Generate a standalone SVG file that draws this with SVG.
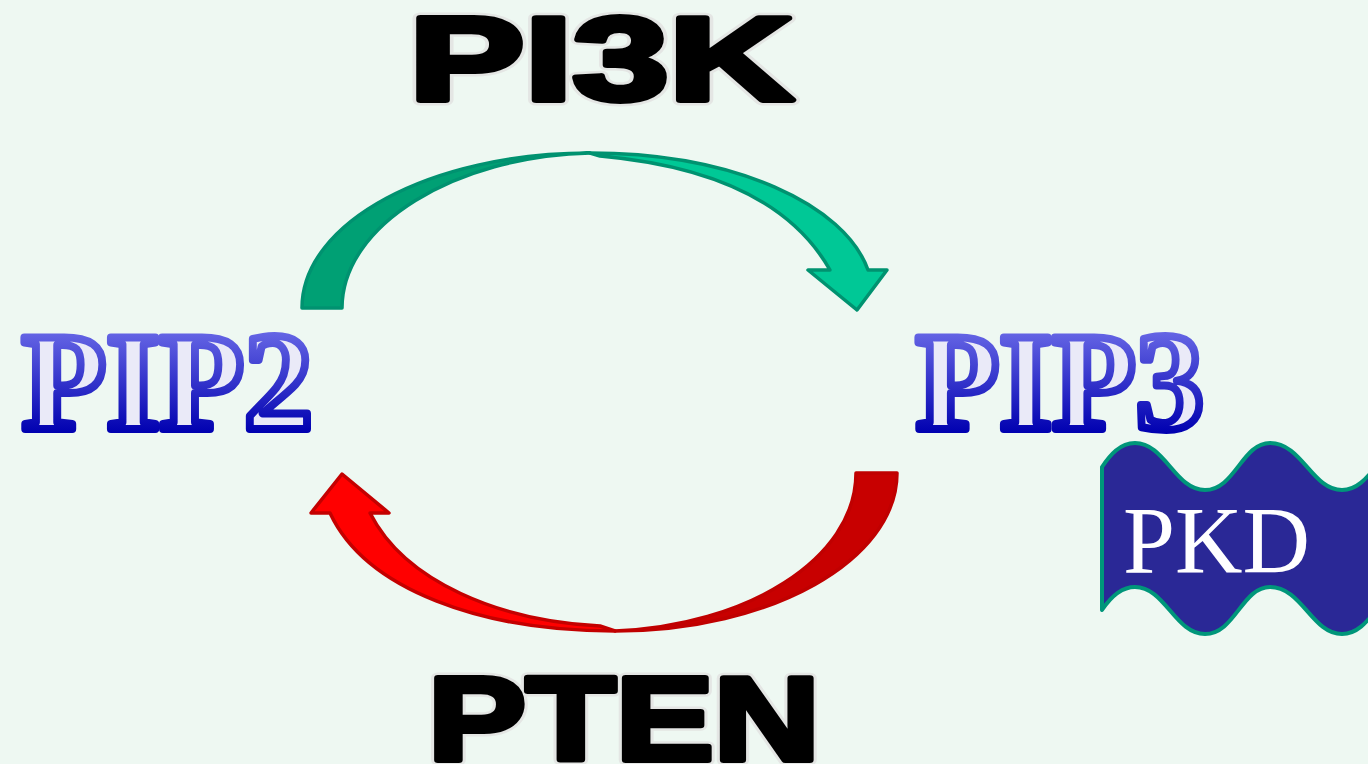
<svg xmlns="http://www.w3.org/2000/svg" width="1368" height="764" viewBox="0 0 1368 764">
  <style>
    .enzyme { font-family: "Liberation Sans", Arial, sans-serif; font-weight: bold; font-size: 119px; }
    .enzyme-halo { fill: none; stroke: #e4e6e4; stroke-width: 11; stroke-linejoin: round; }
    .enzyme-ink { fill: #000000; stroke: #000000; stroke-width: 6; stroke-linejoin: round; }
    .lipid { font-family: "Liberation Serif", "Times New Roman", serif; font-weight: bold; font-size: 139px;
             fill: #eaeaf8; stroke: url(#lipidStroke); stroke-width: 8; stroke-linejoin: round; }
    .arrow-edge { stroke-width: 3.5; stroke-linejoin: round; }
  </style>
  <defs>
    <linearGradient id="lipidStroke" gradientUnits="userSpaceOnUse" x1="0" y1="333" x2="0" y2="433">
      <stop offset="0" stop-color="#6464e4"/>
      <stop offset="1" stop-color="#0000b0"/>
    </linearGradient>
  </defs>

  <!-- backdrop -->
  <rect width="1368" height="764" fill="#eef8f2"/>

  <!-- curved arrows between the two lipids -->
  <g id="connectors">
    <!-- PI3K: PIP2 -> PIP3 (green, over the top) -->
    <g id="arrow-pi3k">
      <path class="arrow-edge" fill="#00c896" stroke="#009270"
            d="M590,153 C735,153 845,205 868,270 L887,270 L857,310 L808,270 L830,270 C792,203 712,166 600,156 Z"/>
      <path class="arrow-edge" fill="#00a074" stroke="#009270"
            d="M302,308 C302,222 431,153 590,153 C455,156 342,225 342,308 Z"/>
    </g>
    <!-- PTEN: PIP3 -> PIP2 (red, under the bottom) -->
    <g id="arrow-pten">
      <path class="arrow-edge" fill="#ff0000" stroke="#c40000"
            d="M615,631 C482,631 366,590 330,513 L311,513 L342,474 L389,513 L370,513 C405,582 500,621 600,626 Z"/>
      <path class="arrow-edge" fill="#c80000" stroke="#c00000"
            d="M856,473 L897,473 C897,560 771,631 615,631 C745,626 856,560 856,473 Z"/>
    </g>
  </g>

  <!-- enzyme labels (wide heavy lettering, stretched horizontally) -->
  <g id="node-pi3k" transform="translate(409,100) scale(1.455,1)">
    <text class="enzyme enzyme-halo" x="0" y="0">PI3K</text>
    <text class="enzyme enzyme-ink" x="0" y="0">PI3K</text>
  </g>
  <g id="node-pten" transform="translate(428,760) scale(1.235,1)">
    <text class="enzyme enzyme-halo" x="0" y="0">PTEN</text>
    <text class="enzyme enzyme-ink" x="0" y="0">PTEN</text>
  </g>

  <!-- lipid labels -->
  <g id="node-pip2">
    <text class="lipid" x="22" y="429" textLength="291" lengthAdjust="spacingAndGlyphs">PIP2</text>
  </g>
  <g id="node-pip3">
    <text class="lipid" x="916" y="429" textLength="288" lengthAdjust="spacingAndGlyphs">PIP3</text>
  </g>

  <!-- PKD wave banner -->
  <g id="node-pkd">
    <path fill="#2a2896" stroke="#00967a" stroke-width="4" stroke-linejoin="round"
          d="M1102,467 C1110,455 1120,443 1135,443 C1165,443 1175,490 1205,490 C1235,490 1242,443 1270,443 C1302,443 1312,490 1342,490 C1372,490 1380,443 1410,443
             L1410,587 C1380,587 1372,634 1342,634 C1312,634 1302,587 1270,587 C1242,587 1235,634 1205,634 C1175,634 1165,587 1135,587 C1120,587 1110,598 1102,610 Z"/>
    <text x="1123" y="573" textLength="187" lengthAdjust="spacingAndGlyphs"
          font-family="'Liberation Serif', 'Times New Roman', serif" font-size="95" fill="#ffffff">PKD</text>
  </g>
</svg>
